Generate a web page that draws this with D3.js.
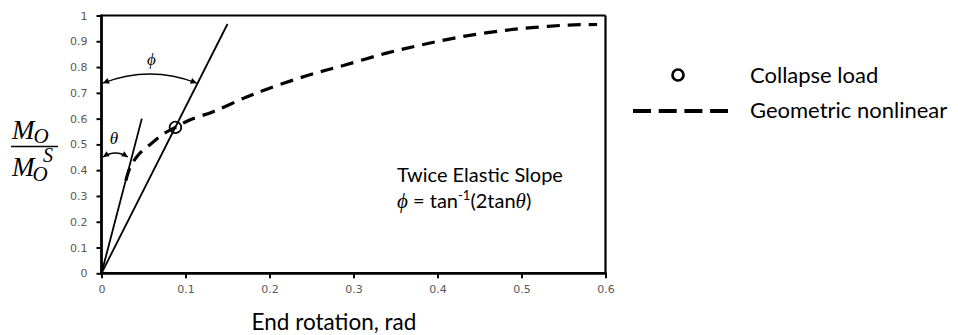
<!DOCTYPE html>
<html>
<head>
<meta charset="utf-8">
<script src="https://cdn.jsdelivr.net/npm/d3@7"></script>
<style>
  body { margin: 0; background: #fff; }
  text { font-family: Lato, "Open Sans", sans-serif; }
  .tick text { font-family: "DejaVu Sans", sans-serif; font-size: 11px; fill: #595959; }
  .serif { font-family: "Liberation Serif", "DejaVu Serif", serif; font-style: italic; }
</style>
</head>
<body>
<svg id="chart" width="958" height="335"></svg>
<script>
// geometric nonlinear curve
var rotation = [0.029, 0.034, 0.044, 0.058, 0.075, 0.088, 0.105, 0.133, 0.172, 0.200, 0.247, 0.290, 0.338, 0.381, 0.429, 0.477, 0.516, 0.556, 0.590];
var moment   = [0.360, 0.410, 0.460, 0.500, 0.543, 0.566, 0.595, 0.627, 0.683, 0.718, 0.769, 0.808, 0.853, 0.886, 0.918, 0.941, 0.954, 0.963, 0.965];

// collapse load point
var collapseRot = [0.088];
var collapseMom = [0.566];

// elastic slope and twice elastic slope lines
var elasticRot = [0, 0.048];
var elasticMom = [0, 0.600];
var twiceRot = [0, 0.150];
var twiceMom = [0, 0.967];

// angle markers (height in M/Ms)
var thetaLevel = 0.451;
var phiLevel = 0.738;

var xTicks = [0, 0.1, 0.2, 0.3, 0.4, 0.5, 0.6];
var yTicks = [0, 0.1, 0.2, 0.3, 0.4, 0.5, 0.6, 0.7, 0.8, 0.9, 1];

var svg = d3.select("#chart");

var x = d3.scaleLinear().domain([0, 0.6]).range([101.5, 605.5]);
var y = d3.scaleLinear().domain([0, 1]).range([273.3, 15.5]);

var defs = svg.append("defs");
defs.append("marker")
    .attr("id", "arr")
    .attr("viewBox", "0 0 10 10")
    .attr("refX", 10).attr("refY", 5)
    .attr("markerWidth", 7).attr("markerHeight", 6)
    .attr("markerUnits", "userSpaceOnUse")
    .attr("orient", "auto-start-reverse")
  .append("path")
    .attr("d", "M0,0L10,5L0,10z")
    .attr("fill", "#000");

// axes
var xAxis = svg.append("g")
    .attr("transform", "translate(0," + y(0) + ")")
    .call(d3.axisBottom(x).tickValues(xTicks).tickSize(5).tickPadding(7).tickFormat(d3.format("~g")));
var yAxis = svg.append("g")
    .attr("transform", "translate(" + x(0) + ",0)")
    .call(d3.axisLeft(y).tickValues(yTicks).tickSize(5).tickPadding(9).tickFormat(d3.format("~g")));
xAxis.select(".domain").remove();
yAxis.select(".domain").remove();
svg.selectAll(".tick line").attr("stroke", "#000").attr("stroke-width", 2);

// frame
svg.append("line").attr("x1", x(0)).attr("x2", x(0.6)).attr("y1", y(1)).attr("y2", y(1))
    .attr("stroke", "#000").attr("stroke-width", 2.2);
svg.append("line").attr("x1", x(0.6)).attr("x2", x(0.6)).attr("y1", y(1)).attr("y2", y(0))
    .attr("stroke", "#000").attr("stroke-width", 2.2);
svg.append("line").attr("x1", x(0)).attr("x2", x(0)).attr("y1", y(1) - 1).attr("y2", y(0) + 1.5)
    .attr("stroke", "#000").attr("stroke-width", 2.8);
svg.append("line").attr("x1", x(0) - 1.4).attr("x2", x(0.6) + 1.1).attr("y1", y(0)).attr("y2", y(0))
    .attr("stroke", "#000").attr("stroke-width", 2.8);

var line = d3.line().x(function (d) { return x(d[0]); }).y(function (d) { return y(d[1]); });

// elastic lines
svg.append("path").datum(d3.zip(elasticRot, elasticMom))
    .attr("d", line).attr("fill", "none").attr("stroke", "#000").attr("stroke-width", 1.8);
svg.append("path").datum(d3.zip(twiceRot, twiceMom))
    .attr("d", line).attr("fill", "none").attr("stroke", "#000").attr("stroke-width", 1.8);

// nonlinear curve
svg.append("path").datum(d3.zip(rotation, moment))
    .attr("d", line.curve(d3.curveCatmullRom.alpha(0.5)))
    .attr("fill", "none").attr("stroke", "#000").attr("stroke-width", 3.2)
    .attr("stroke-dasharray", "13,8");

// collapse point
svg.selectAll("circle.collapse").data(d3.zip(collapseRot, collapseMom)).enter()
  .append("circle").attr("class", "collapse")
    .attr("cx", function (d) { return x(d[0]); })
    .attr("cy", function (d) { return y(d[1]); })
    .attr("r", 5.8).attr("fill", "none").attr("stroke", "#000").attr("stroke-width", 1.8);

// angle arcs
function arc(y0, x1, lift) {
  var ax = x(0) + 1.5, bx = x1, py = y(y0);
  return "M" + ax + "," + py + "Q" + ((ax + bx) / 2) + "," + (py - lift) + " " + bx + "," + py;
}
var phiEnd = phiLevel * twiceRot[1] / twiceMom[1];
var thetaEnd = thetaLevel * elasticRot[1] / elasticMom[1];
svg.append("path").attr("d", arc(phiLevel, x(phiEnd) - 1, 18))
    .attr("fill", "none").attr("stroke", "#000").attr("stroke-width", 1.4)
    .attr("marker-start", "url(#arr)").attr("marker-end", "url(#arr)");
svg.append("path").attr("d", arc(thetaLevel, x(thetaEnd) - 4, 8))
    .attr("fill", "none").attr("stroke", "#000").attr("stroke-width", 1.4)
    .attr("marker-start", "url(#arr)").attr("marker-end", "url(#arr)");

svg.append("text").attr("class", "serif").attr("x", 151.5).attr("y", 65)
    .attr("text-anchor", "middle").attr("font-size", 17).text("ϕ");
svg.append("text").attr("class", "serif").attr("x", 114).attr("y", 144)
    .attr("text-anchor", "middle").attr("font-size", 17).text("θ");

// annotation
svg.append("text").attr("x", 397).attr("y", 182).attr("font-size", 20).text("Twice Elastic Slope");
var eq = svg.append("text").attr("x", 397).attr("y", 208).attr("font-size", 20);
eq.append("tspan").attr("class", "serif").attr("font-size", 21).text("ϕ");
eq.append("tspan").text(" = tan");
eq.append("tspan").attr("dy", -8).attr("font-size", 13).text("-1");
eq.append("tspan").attr("dy", 8).text("(2tan");
eq.append("tspan").attr("class", "serif").attr("font-size", 21).text("θ");
eq.append("tspan").text(")");

// axis titles
svg.append("text").attr("x", 334).attr("y", 330).attr("text-anchor", "middle")
    .attr("font-size", 22.5).text("End rotation, rad");

// M_O / M_O^S as one text block
var yt = svg.append("text").attr("class", "serif").attr("font-size", 27);
yt.append("tspan").attr("x", 12).attr("y", 139).text("M");
yt.append("tspan").attr("dx", -1).attr("dy", 4).attr("font-size", 21).text("O");
yt.append("tspan").attr("x", 12).attr("y", 176).text("M");
yt.append("tspan").attr("dx", -2).attr("dy", 5).attr("font-size", 21).text("O");
yt.append("tspan").attr("x", 43).attr("y", 162).attr("font-size", 20).text("S");
svg.append("line").attr("x1", 11).attr("x2", 58).attr("y1", 146.5).attr("y2", 146.5)
    .attr("stroke", "#000").attr("stroke-width", 1.3);

// legend
svg.append("circle").attr("cx", 678).attr("cy", 75).attr("r", 5.5)
    .attr("fill", "none").attr("stroke", "#000").attr("stroke-width", 2.7);
svg.append("text").attr("x", 750).attr("y", 83).attr("font-size", 22).text("Collapse load");
svg.append("line").attr("x1", 633).attr("x2", 728).attr("y1", 111).attr("y2", 111)
    .attr("stroke", "#000").attr("stroke-width", 3.8).attr("stroke-dasharray", "18,7.7");
svg.append("text").attr("x", 750).attr("y", 118).attr("font-size", 22).text("Geometric nonlinear");
</script>
</body>
</html>
